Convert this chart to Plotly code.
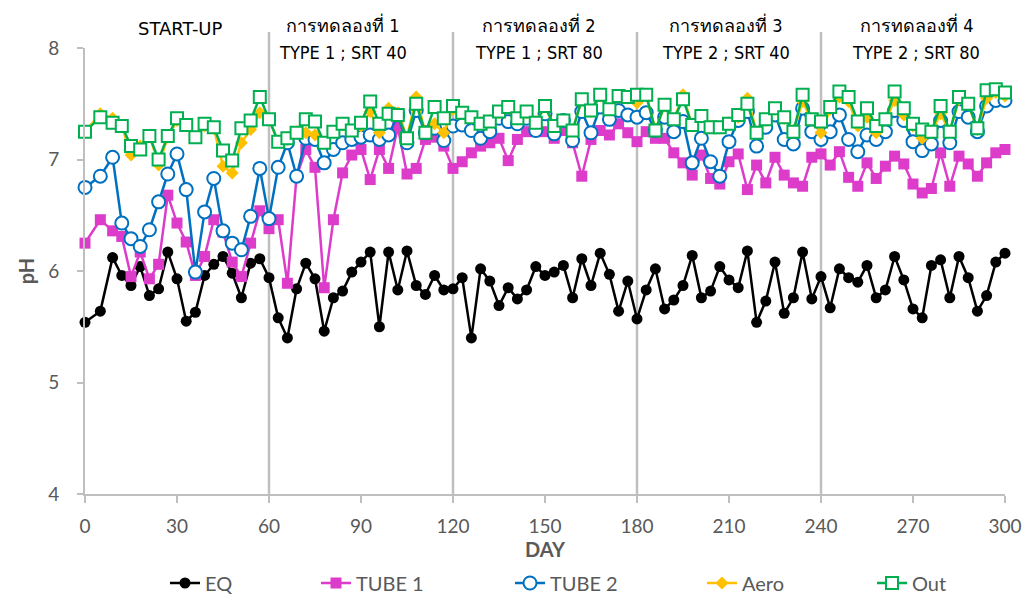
import plotly.graph_objects as go

days = [0, 5, 9, 12, 15, 18, 21, 24, 27, 30, 33, 36, 39, 42, 45, 48, 51, 54, 57, 60,
        63, 66, 69, 72, 75, 78, 81, 84, 87, 90, 93, 96, 99, 102, 105, 108, 111, 114, 117, 120,
        123, 126, 129, 132, 135, 138, 141, 144, 147, 150, 153, 156, 159, 162, 165, 168, 171, 174, 177, 180,
        183, 186, 189, 192, 195, 198, 201, 204, 207, 210, 213, 216, 219, 222, 225, 228, 231, 234, 237, 240,
        243, 246, 249, 252, 255, 258, 261, 264, 267, 270, 273, 276, 279, 282, 285, 288, 291, 294, 297, 300]

eq = [5.54, 5.64, 6.12, 5.96, 5.87, 6.04, 5.78, 5.84, 6.17, 5.93, 5.55, 5.63, 5.96, 6.06, 6.13, 5.98, 5.76, 6.07, 6.11, 5.94,
      5.58, 5.40, 5.84, 6.07, 5.93, 5.46, 5.76, 5.82, 5.99, 6.08, 6.17, 5.50, 6.17, 5.83, 6.18, 5.87, 5.79, 5.96, 5.83, 5.84,
      5.94, 5.40, 6.02, 5.91, 5.69, 5.85, 5.75, 5.83, 6.04, 5.96, 5.99, 6.05, 5.76, 6.11, 5.87, 6.16, 5.97, 5.64, 5.91, 5.57,
      5.83, 6.02, 5.66, 5.74, 5.87, 6.14, 5.76, 5.82, 6.04, 5.92, 5.85, 6.18, 5.54, 5.73, 6.08, 5.62, 5.76, 6.17, 5.75, 5.95,
      5.67, 6.02, 5.94, 5.90, 6.05, 5.76, 5.83, 6.13, 5.92, 5.66, 5.58, 6.05, 6.10, 5.76, 6.13, 5.94, 5.64, 5.78, 6.08, 6.16]

tube1 = [6.25, 6.46, 6.36, 6.31, 5.95, 6.17, 5.93, 6.06, 6.68, 6.43, 6.26, 5.96, 6.13, 6.46, 6.35, 6.08, 5.95, 6.25, 6.54, 6.38,
         6.46, 5.89, 6.85, 7.09, 6.93, 5.85, 6.46, 6.88, 7.04, 7.09, 6.82, 7.09, 6.92, 7.29, 6.87, 6.92, 7.18, 7.20, 7.12, 6.92,
         6.98, 7.06, 7.12, 7.15, 7.19, 6.99, 7.18, 7.25, 7.25, 7.25, 7.19, 7.26, 7.15, 6.85, 7.18, 7.26, 7.22, 7.32, 7.24, 7.16,
         7.25, 7.19, 7.19, 7.06, 6.97, 6.86, 7.04, 6.83, 6.78, 6.98, 7.05, 6.73, 6.95, 6.79, 7.02, 6.86, 6.79, 6.76, 7.02, 7.05,
         6.95, 7.07, 6.84, 6.76, 6.97, 6.83, 6.94, 7.03, 6.96, 6.78, 6.70, 6.74, 7.06, 6.76, 7.03, 6.96, 6.85, 6.97, 7.06, 7.09]

tube2 = [6.75, 6.85, 7.02, 6.43, 6.29, 6.22, 6.37, 6.62, 6.87, 7.05, 6.73, 5.99, 6.53, 6.83, 6.36, 6.25, 6.19, 6.49, 6.92, 6.47,
         6.93, 7.15, 6.85, 7.19, 7.18, 6.97, 7.09, 7.15, 7.18, 7.20, 7.22, 7.18, 7.22, 7.40, 7.15, 7.44, 7.24, 7.28, 7.17, 7.30,
         7.31, 7.26, 7.19, 7.25, 7.37, 7.34, 7.32, 7.37, 7.26, 7.41, 7.23, 7.35, 7.17, 7.43, 7.24, 7.47, 7.36, 7.44, 7.40, 7.38,
         7.42, 7.26, 7.38, 7.25, 7.34, 6.97, 7.19, 6.98, 6.85, 7.16, 7.35, 7.43, 7.12, 7.29, 7.40, 7.18, 7.14, 7.46, 7.25, 7.18,
         7.25, 7.40, 7.18, 7.07, 7.22, 7.18, 7.25, 7.44, 7.35, 7.16, 7.08, 7.14, 7.35, 7.15, 7.43, 7.38, 7.25, 7.48, 7.53, 7.53]

aero = [7.25, 7.41, 7.37, 7.30, 7.04, 7.12, 7.22, 6.95, 7.20, 7.35, 7.30, 7.20, 7.30, 7.28, 6.94, 6.88, 7.15, 7.27, 7.42, 7.36,
        7.16, 7.18, 7.25, 7.24, 7.22, 7.15, 7.25, 7.31, 7.26, 7.30, 7.43, 7.24, 7.46, 7.42, 7.20, 7.56, 7.24, 7.32, 7.24, 7.45,
        7.41, 7.37, 7.33, 7.35, 7.42, 7.46, 7.36, 7.42, 7.34, 7.47, 7.30, 7.35, 7.27, 7.53, 7.43, 7.57, 7.45, 7.56, 7.55, 7.51,
        7.57, 7.27, 7.48, 7.36, 7.58, 7.30, 7.38, 7.30, 7.28, 7.33, 7.38, 7.55, 7.25, 7.35, 7.45, 7.37, 7.26, 7.52, 7.35, 7.24,
        7.45, 7.56, 7.52, 7.30, 7.38, 7.24, 7.35, 7.53, 7.40, 7.30, 7.19, 7.24, 7.41, 7.25, 7.54, 7.50, 7.27, 7.55, 7.60, 7.57]

out = [7.25, 7.38, 7.33, 7.30, 7.12, 7.09, 7.21, 7.00, 7.21, 7.37, 7.31, 7.20, 7.32, 7.29, 7.08, 6.99, 7.28, 7.35, 7.56, 7.36,
       7.16, 7.19, 7.24, 7.36, 7.34, 7.15, 7.25, 7.32, 7.26, 7.33, 7.52, 7.32, 7.41, 7.40, 7.19, 7.50, 7.24, 7.47, 7.37, 7.48,
       7.42, 7.38, 7.32, 7.34, 7.43, 7.47, 7.37, 7.43, 7.33, 7.48, 7.30, 7.35, 7.26, 7.54, 7.44, 7.58, 7.45, 7.57, 7.56, 7.58,
       7.58, 7.26, 7.49, 7.36, 7.54, 7.31, 7.39, 7.29, 7.29, 7.32, 7.40, 7.50, 7.24, 7.36, 7.46, 7.38, 7.25, 7.58, 7.36, 7.34,
       7.47, 7.61, 7.56, 7.34, 7.46, 7.30, 7.36, 7.61, 7.46, 7.32, 7.27, 7.25, 7.48, 7.25, 7.56, 7.50, 7.28, 7.62, 7.63, 7.60]

x_ticks = [0, 30, 60, 90, 120, 150, 180, 210, 240, 270, 300]
y_ticks = [4, 5, 6, 7, 8]
phase_bounds = [60, 120, 180, 240]
phase_thai = ["การทดลองที่ 1", "การทดลองที่ 2", "การทดลองที่ 3", "การทดลองที่ 4"]
phase_type = ["TYPE 1 ; SRT 40", "TYPE 1 ; SRT 80", "TYPE 2 ; SRT 40", "TYPE 2 ; SRT 80"]
phase_label_x = [84, 148, 209, 271]
startup_label = "START-UP"
startup_x = 31

AX = "#595959"
GRID = "#BFBFBF"
TICKFONT = "Lato, Carlito, 'Liberation Sans', sans-serif"
HEADFONT = "'DejaVu Sans Condensed', 'DejaVu Sans', sans-serif"

series = [
    dict(name="EQ", y=eq, color="black", symbol="circle", size=11, fill="black", lw=0, leg_x=165),
    dict(name="TUBE 1", y=tube1, color="#DD3CCB", symbol="square", size=11, fill="#DD3CCB", lw=0, leg_x=316),
    dict(name="TUBE 2", y=tube2, color="#0070C0", symbol="circle", size=13, fill="white", lw=2, leg_x=510),
    dict(name="Aero", y=aero, color="#FFC000", symbol="diamond", size=10, fill="#FFC000", lw=0, leg_x=702),
    dict(name="Out", y=out, color="#00B050", symbol="square", size=12, fill="white", lw=2, leg_x=872),
]

fig = go.Figure()
layout_legends = {}
for i, s in enumerate(series):
    lname = "legend" if i == 0 else f"legend{i + 1}"
    fig.add_trace(go.Scatter(
        x=days, y=s["y"], name=s["name"], mode="lines+markers", cliponaxis=False, legend=lname,
        line=dict(color=s["color"], width=2.5),
        marker=dict(symbol=s["symbol"], size=s["size"], color=s["fill"],
                    line=dict(color=s["color"], width=s["lw"]))))
    layout_legends[lname] = dict(orientation="h", xref="container", yref="container",
                                 x=s["leg_x"] / 1025, xanchor="left", y=12 / 595, yanchor="middle",
                                 bgcolor="rgba(0,0,0,0)", borderwidth=0,
                                 font=dict(family=TICKFONT, size=20, color=AX))

shapes = []
for b in phase_bounds:
    shapes.append(dict(type="line", xref="x", yref="paper", x0=b, x1=b, y0=0, y1=1.036,
                       line=dict(color=GRID, width=2.5), layer="below"))

annotations = [dict(x=startup_x, xref="x", y=1.0448, yref="paper", yanchor="middle", xanchor="center",
                    showarrow=False, text=startup_label,
                    font=dict(family="'DejaVu Sans', sans-serif", size=18, color="black"))]
for th, ty, xl in zip(phase_thai, phase_type, phase_label_x):
    annotations.append(dict(x=xl, xref="x", y=1.0516, yref="paper", yanchor="middle", xanchor="center",
                            showarrow=False, text=th, font=dict(family=HEADFONT, size=18, color="black")))
    annotations.append(dict(x=xl, xref="x", y=0.991, yref="paper", yanchor="middle", xanchor="center",
                            showarrow=False, text=ty, font=dict(family=HEADFONT, size=18, color="black")))

fig.update_layout(
    width=1025, height=595,
    margin=dict(l=85, r=20, t=48, b=101),
    paper_bgcolor="white", plot_bgcolor="white",
    showlegend=True,
    xaxis=dict(range=[0, 300], tickvals=x_ticks, showgrid=False, zeroline=False, automargin=False,
               showline=True, linecolor=GRID, linewidth=2, ticks="outside", ticklen=7,
               tickcolor=GRID, tickwidth=2, ticklabelstandoff=7,
               tickfont=dict(family=TICKFONT, size=19, color=AX),
               title=dict(text="<b>DAY</b>", font=dict(family=TICKFONT, size=20, color=AX), standoff=6)),
    yaxis=dict(range=[4, 8], tickvals=y_ticks, showgrid=False, zeroline=False, automargin=False,
               showline=True, linecolor=GRID, linewidth=2, ticks="outside", ticklen=6,
               tickcolor=GRID, tickwidth=2, ticklabelstandoff=14,
               tickfont=dict(family=TICKFONT, size=19, color=AX),
               title=dict(text="<b>pH</b>", font=dict(family=TICKFONT, size=20, color=AX), standoff=8)),
    shapes=shapes,
    annotations=annotations,
    **layout_legends,
)

fig.write_html("out.html", config={"displayModeBar": False},
               post_script="document.body.style.margin='0px';")
